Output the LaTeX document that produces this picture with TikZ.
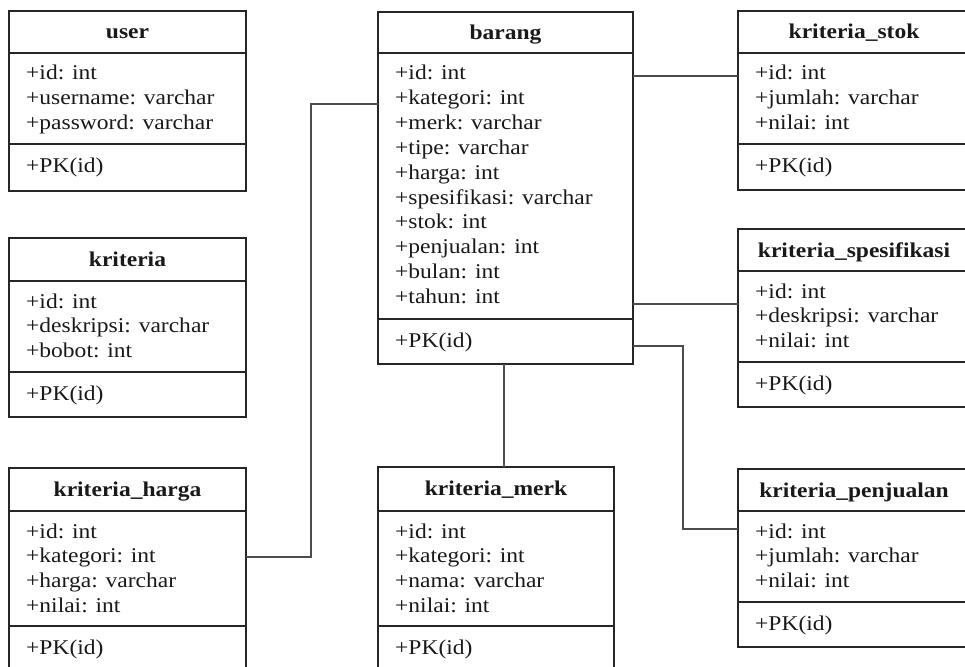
\documentclass[tikz,border=0pt]{standalone}
\usepackage{fontspec}
\setmainfont{Liberation Serif}[FakeStretch=1.12]
\usetikzlibrary{calc}

\tikzset{
  entframe/.style={draw=black!85, line width=1.6pt, inner sep=0pt, outer sep=0pt, fill=white},
  entline/.style={draw=black!85, line width=1.6pt},
  enttitle/.style={inner sep=0pt, text=black!90, font=\fontsize{21}{25}\selectfont\bfseries},
  entattr/.style={inner sep=0pt, text=black!90, font=\fontsize{21}{25}\selectfont},
  link/.style={draw=black!70, line width=1.6pt},
}

% #1 name, #2 left, #3 right, #4 top, #5 title rule, #6 attribute rule,
% #7 bottom, #8 title, #9 attribute list
\newcommand\entitybox[9]{%
  \node[entframe, anchor=north west,
        minimum width={(#3-#2)*1pt}, minimum height={(#7-#4)*1pt}] (#1) at (#2,#4) {};
  \draw[entline] (#1.west |- 0,#5) -- (#1.east |- 0,#5);
  \draw[entline] (#1.west |- 0,#6) -- (#1.east |- 0,#6);
  \node[enttitle, anchor=base] (#1-title) at ({(#2+#3)/2},{#4+28}) {#8};
  \foreach \a [count=\i from 0] in {#9}
    \node[entattr, anchor=base west] (#1-a\i) at ({#2+17},{#5+27+24.8*\i}) {\a};
  \node[entattr, anchor=base west] (#1-pk) at ({#2+17},{#6+28}) {+PK(id)};
}

\begin{document}
\begin{tikzpicture}[x=1pt, y=-1pt]
  \fill[white] (0,0) rectangle (965,666);
  \path[use as bounding box, clip] (0,0) rectangle (965,666);

  % left column
  \entitybox{user}{9}{246}{11}{53}{144}{191}{user}
    {+id: int, +username: varchar, +password: varchar}
  \entitybox{kriteria}{9}{246}{238}{281}{372}{417}{kriteria}
    {+id: int, +deskripsi: varchar, +bobot: int}
  \entitybox{harga}{9}{246}{468}{511}{626}{672}{kriteria\_harga}
    {+id: int, +kategori: int, +harga: varchar, +nilai: int}

  % middle column
  \entitybox{barang}{378}{633}{12}{53}{319}{364}{barang}
    {+id: int, +kategori: int, +merk: varchar, +tipe: varchar, +harga: int,
     +spesifikasi: varchar, +stok: int, +penjualan: int, +bulan: int, +tahun: int}
  \entitybox{merk}{378}{614}{467}{511}{626}{672}{kriteria\_merk}
    {+id: int, +kategori: int, +nama: varchar, +nilai: int}

  % right column
  \entitybox{stok}{738}{970}{11}{53}{144}{190}{kriteria\_stok}
    {+id: int, +jumlah: varchar, +nilai: int}
  \entitybox{spek}{738}{970}{229}{271}{362}{407}{kriteria\_spesifikasi}
    {+id: int, +deskripsi: varchar, +nilai: int}
  \entitybox{jual}{738}{970}{469}{511}{602}{647}{kriteria\_penjualan}
    {+id: int, +jumlah: varchar, +nilai: int}

  % relations
  \coordinate (bendL) at (311,330);
  \coordinate (bendR) at (683,430);
  \draw[link] (harga.east |- 0,557) -| (bendL) |- (barang.west |- 0,104);
  \draw[link] (barang.east |- 0,76) -- (stok.west |- 0,76);
  \draw[link] (barang.east |- 0,304) -- (spek.west |- 0,304);
  \draw[link] (barang.east |- 0,346) -| (bendR) |- (jual.west |- 0,529);
  \draw[link] (barang.south -| 504,0) -- (merk.north -| 504,0);
\end{tikzpicture}
\end{document}
